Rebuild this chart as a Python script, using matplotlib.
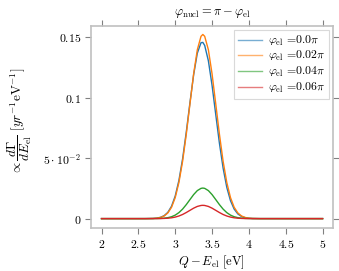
import matplotlib
matplotlib.use('Agg')
import matplotlib.pyplot as plt

plt.rcParams['font.family'] = 'serif'
plt.rcParams['font.serif'] = ['cmr10', 'DejaVu Serif']
plt.rcParams['mathtext.fontset'] = 'cm'
plt.rcParams['axes.unicode_minus'] = False

# energy grid (eV) and spectra
energy = [2.0, 2.5, 2.6, 2.70, 2.75, 2.80, 2.85, 2.90, 2.95, 3.00, 3.05, 3.10, 3.15,
          3.20, 3.25, 3.30, 3.35, 3.375, 3.40, 3.45, 3.50, 3.55, 3.60, 3.65, 3.70,
          3.75, 3.80, 3.85, 3.90, 3.95, 4.00, 4.05, 4.15, 4.5, 5.0]

rate_00 = [0, 0, 0.00002, 0.00016, 0.00043, 0.00106, 0.00244, 0.00519, 0.01025, 0.01871,
           0.03158, 0.04942, 0.07164, 0.09605, 0.11915, 0.13699, 0.14569, 0.14591,
           0.14342, 0.13070, 0.11038, 0.08626, 0.06243, 0.04181, 0.02588, 0.01485,
           0.00788, 0.00387, 0.00177, 0.00075, 0.00029, 0.00011, 0.00001, 0, 0]
rate_02 = [0, 0, 0.00001, 0.00013, 0.00037, 0.00093, 0.00217, 0.00470, 0.00939, 0.01742,
           0.02989, 0.04743, 0.06985, 0.09501, 0.11987, 0.13984, 0.15098, 0.15250,
           0.15098, 0.13984, 0.11987, 0.09501, 0.06985, 0.04743, 0.02989, 0.01742,
           0.00939, 0.00470, 0.00217, 0.00093, 0.00037, 0.00013, 0.00001, 0, 0]
rate_04 = [0, 0, 0, 0.00002, 0.00006, 0.00015, 0.00036, 0.00078, 0.00156, 0.00289,
           0.00496, 0.00787, 0.01159, 0.01576, 0.01989, 0.02320, 0.02505, 0.02530,
           0.02505, 0.02320, 0.01989, 0.01576, 0.01159, 0.00787, 0.00496, 0.00289,
           0.00156, 0.00078, 0.00036, 0.00015, 0.00006, 0.00002, 0, 0, 0]
rate_06 = [0, 0, 0, 0.00001, 0.00003, 0.00007, 0.00016, 0.00034, 0.00068, 0.00126,
           0.00216, 0.00342, 0.00504, 0.00685, 0.00865, 0.01009, 0.01089, 0.01100,
           0.01089, 0.01009, 0.00865, 0.00685, 0.00504, 0.00342, 0.00216, 0.00126,
           0.00068, 0.00034, 0.00016, 0.00007, 0.00003, 0.00001, 0, 0, 0]

labels = ['0.0', '0.02', '0.04', '0.06']
colors = ['#1f77b4', '#ff7f0e', '#2ca02c', '#d62728']

xticks = [2, 2.5, 3, 3.5, 4, 4.5, 5]
xticklabels = ['$2$', '$2.5$', '$3$', '$3.5$', '$4$', '$4.5$', '$5$']
yticks = [0, 0.05, 0.1, 0.15]
yticklabels = ['$0$', r'$5\cdot10^{-2}$', '$0.1$', '$0.15$']

fig = plt.figure(figsize=(3.39, 2.71), dpi=100)
ax = fig.add_axes([0.268, 0.159, 0.714, 0.745])

for rate, lab, c in zip([rate_00, rate_02, rate_04, rate_06], labels, colors):
    ax.plot(energy, rate, color=c, lw=1.0, label=r'$\varphi_{\rm el}$ =' + lab + r'$\pi$')

ax.set_xlim(1.855, 5.14)
ax.set_ylim(-0.0077, 0.1595)
ax.set_xticks(xticks)
ax.set_xticklabels(xticklabels)
ax.set_yticks(yticks)
ax.set_yticklabels(yticklabels)

frame = '#c0c0c0'
for s in ax.spines.values():
    s.set_color(frame)
    s.set_linewidth(1.2)
ax.tick_params(direction='out', length=4, width=0.8, color='#808080',
               top=True, right=True, labelsize=8.5, pad=3)

ax.set_title(r'$\varphi_{\rm nucl} = \pi - \varphi_{\rm el}$', fontsize=9, pad=8)
ax.set_xlabel(r'$Q - E_{\rm el}$ [eV]', fontsize=9, labelpad=3)
ax.set_ylabel(r'$\propto \dfrac{d\Gamma}{dE_{\rm el}}\ [yr^{-1}{\rm eV}^{-1}]$', fontsize=9.5,
              va='center')
ax.yaxis.set_label_coords(-0.295, 0.53)

leg = ax.legend(loc='upper right', fontsize=8.5, frameon=True, fancybox=False,
                borderaxespad=0.3, handlelength=2.0, labelspacing=0.15,
                borderpad=0.35, handletextpad=0.5)
leg.get_frame().set_edgecolor('#d0d0d0')
leg.get_frame().set_linewidth(0.8)
for line in leg.get_lines():
    line.set_alpha(0.6)

fig.savefig('out.png', dpi=100)
